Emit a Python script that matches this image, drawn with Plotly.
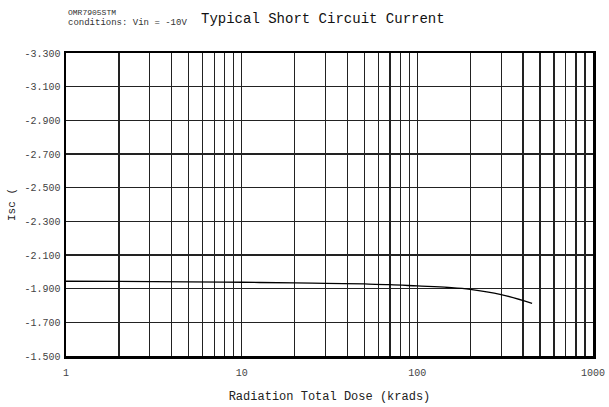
import plotly.graph_objects as go

dose = [1, 2, 5, 10, 20, 30, 50, 70, 100, 150, 200, 300, 450]
isc = [-1.944, -1.943, -1.940, -1.938, -1.934, -1.932, -1.928, -1.924,
       -1.916, -1.907, -1.896, -1.865, -1.813]

x_major = [1, 10, 100, 1000]
x_minor = [m * d for d in (1, 10, 100) for m in range(2, 10)]
y_ticks = [-3.3, -3.1, -2.9, -2.7, -2.5, -2.3, -2.1, -1.9, -1.7, -1.5]

title_text = "Typical Short Circuit Current"
sub1 = "OMR7905STM"
sub2 = "conditions: Vin = -10V"
x_title = "Radiation Total Dose (krads)"
y_title = "Isc ("

FONT = "Liberation Mono, Courier New, monospace"

fig = go.Figure()
fig.add_trace(go.Scatter(x=dose, y=isc, mode="lines", line=dict(color="black", width=1.3, shape="spline"),
                         showlegend=False, hoverinfo="skip"))

fig.update_layout(
    width=609, height=407,
    margin=dict(l=66, r=16, t=53, b=51),
    paper_bgcolor="white", plot_bgcolor="white",
    font=dict(family=FONT, color="#333", size=10),
    showlegend=False,
)
fig.update_xaxes(
    type="log", range=[0, 3], automargin=False,
    tickmode="array", tickvals=x_major, ticktext=[str(v) for v in x_major],
    showgrid=True, gridcolor="#222", gridwidth=1.3,
    minor=dict(tickmode="array", tickvals=x_minor, showgrid=True, gridcolor="#222", gridwidth=1.3, ticks=""),
    showline=True, linecolor="black", linewidth=2.5, mirror=True,
    ticks="", ticklabelstandoff=5, tickfont=dict(size=10, color="#444", family=FONT),
    title=dict(text=x_title, font=dict(size=12, color="#222", family=FONT), standoff=14),
    zeroline=False,
)
fig.update_yaxes(
    range=[-1.5, -3.3], automargin=False,
    tickmode="array", tickvals=y_ticks, ticktext=["%.3f" % v for v in y_ticks],
    showgrid=True, gridcolor="#222", gridwidth=1.3,
    showline=True, linecolor="black", linewidth=2.5, mirror=True,
    ticks="", ticklabelstandoff=1, tickfont=dict(size=10, color="#444", family=FONT),
    title=dict(text=y_title, font=dict(size=11, color="#222", family=FONT), standoff=7),
    zeroline=False,
)
fig.add_annotation(text=title_text, xref="paper", yref="paper", x=0.253, y=1.0, yshift=24,
                   xanchor="left", yanchor="bottom", showarrow=False,
                   font=dict(size=14, color="#111", family=FONT))
fig.add_annotation(text=sub1, xref="paper", yref="paper", x=0.0, y=1.0, yshift=34,
                   xanchor="left", yanchor="bottom", showarrow=False,
                   font=dict(size=8, color="#333", family=FONT))
fig.add_annotation(text=sub2, xref="paper", yref="paper", x=0.0, y=1.0, yshift=23,
                   xanchor="left", yanchor="bottom", showarrow=False,
                   font=dict(size=9, color="#333", family=FONT))

fig.write_html("out.html", config={"staticPlot": True, "displayModeBar": False},
               post_script="document.body.style.margin='0px';document.body.style.overflow='hidden';")
